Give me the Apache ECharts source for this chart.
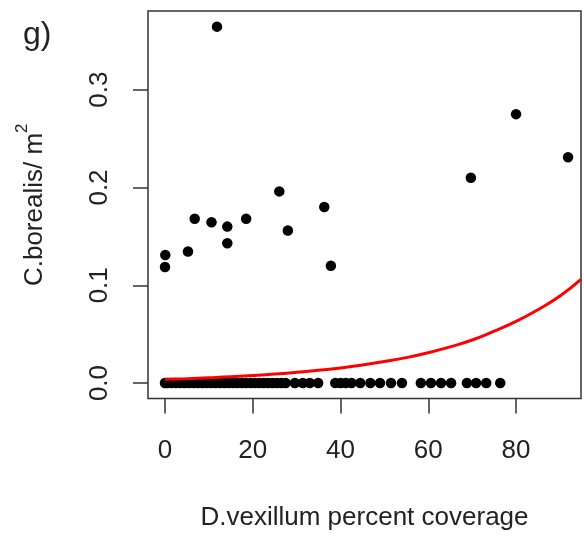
<!DOCTYPE html>
<html><head><meta charset="utf-8">
<script src="https://cdn.jsdelivr.net/npm/echarts@6/dist/echarts.min.js"></script>
<style>html,body{margin:0;padding:0;background:#fff}#c{width:584px;height:536px}</style>
</head><body><div id="c"></div>
<script>
// observations with zero density
const zeroX = [0, 0.5, 1.5, 2.5, 3.5, 4.5, 5.5, 6.5, 7.5, 8.5, 9.5, 10.5, 11.5, 12.5, 13.5, 14.5, 15.5, 16.5, 17.5, 18.5, 19.5, 20.5, 21.5, 22.5, 23.5, 24.5, 25.5, 26.5, 27.5, 29.6, 31.4, 33, 34.9,
  38.8, 40, 41.2, 42.5, 44.5, 46.8, 49, 51.5, 54,
  58.3, 60.6, 62.9, 65.2,
  68.8, 70.9, 73.2,
  76.4];
// observations with non-zero density
const pointX = [11.85, 26.05, 36.3, 6.77, 10.6, 14.2, 18.5, 28.0, 14.2, 5.24, 0.07, 0, 37.8, 69.7, 80.0, 91.85];
const pointY = [0.3645, 0.196, 0.180, 0.168, 0.1645, 0.160, 0.168, 0.156, 0.143, 0.1346, 0.131, 0.1187, 0.120, 0.210, 0.275, 0.231];
// fitted curve
const curveX = [0, 5, 10, 15, 20, 25, 30, 35, 40, 45, 50, 55, 60, 65, 70, 75, 80, 85, 90, 94.8];
const curveY = [0.0038, 0.0045, 0.0054, 0.0064, 0.0077, 0.0092, 0.011, 0.013, 0.0155, 0.0185, 0.022, 0.026, 0.031, 0.037, 0.044, 0.053, 0.063, 0.075, 0.089, 0.106];
const xTicks = [0, 20, 40, 60, 80];
const yTicks = [0, 0.1, 0.2, 0.3];
const yTickLabels = ['0.0', '0.1', '0.2', '0.3'];

const FONT = 'Liberation Sans, Arial, sans-serif';
const TXT = '#222';
const chart = echarts.init(document.getElementById('c'), null, {renderer: 'canvas'});
chart.setOption({
  animation: false,
  backgroundColor: '#fff',
  title: {text: 'g)', left: 23, top: 19, padding: 0,
    textStyle: {fontSize: 32, fontWeight: 'normal', color: TXT, fontFamily: FONT}},
  grid: {left: 148, right: 3, top: 11, bottom: 135.5, show: true,
    borderColor: '#333', borderWidth: 1.5, backgroundColor: 'transparent'},
  xAxis: {
    type: 'value', min: -3.87, max: 94.8,
    splitLine: {show: false}, axisLine: {show: false, onZero: false},
    axisTick: {show: true, inside: false, length: 15, customValues: xTicks,
      lineStyle: {color: '#333', width: 1.5}},
    axisLabel: {customValues: xTicks, fontSize: 26, fontFamily: FONT, color: TXT, margin: 39},
    name: 'D.vexillum percent coverage', nameLocation: 'middle', nameGap: 106.5,
    nameTextStyle: {fontSize: 26, fontFamily: FONT, color: TXT}
  },
  yAxis: {
    type: 'value', min: -0.0158, max: 0.3805,
    splitLine: {show: false}, axisLine: {show: false, onZero: false},
    axisTick: {show: true, inside: false, length: 15, customValues: yTicks,
      lineStyle: {color: '#333', width: 1.5}},
    axisLabel: {customValues: yTicks, rotate: 90, fontSize: 26, fontFamily: FONT, color: TXT, margin: 35,
      formatter: v => { const i = yTicks.findIndex(t => Math.abs(t - v) < 1e-9); return i >= 0 ? yTickLabels[i] : ''; }},
    name: '{a|C.borealis/ m}{s|2}', nameLocation: 'middle', nameRotate: 90, nameGap: 100,
    nameTextStyle: {color: TXT, fontFamily: FONT,
      rich: {a: {fontSize: 26, fontFamily: FONT, color: TXT, lineHeight: 34, verticalAlign: 'bottom'},
             s: {fontSize: 17, fontFamily: FONT, color: TXT, verticalAlign: 'top', lineHeight: 34}}}
  },
  series: [
    {type: 'scatter', data: zeroX.map(x => [x, 0]), symbolSize: 10.5,
      itemStyle: {color: '#000', opacity: 1}, z: 2},
    {type: 'scatter', data: pointX.map((x, i) => [x, pointY[i]]), symbolSize: 10.5,
      itemStyle: {color: '#000', opacity: 1}, z: 2},
    {type: 'line', data: curveX.map((x, i) => [x, curveY[i]]), showSymbol: false, smooth: true,
      lineStyle: {color: '#ff0000', width: 3}, z: 3, clip: true}
  ]
});
</script></body></html>
